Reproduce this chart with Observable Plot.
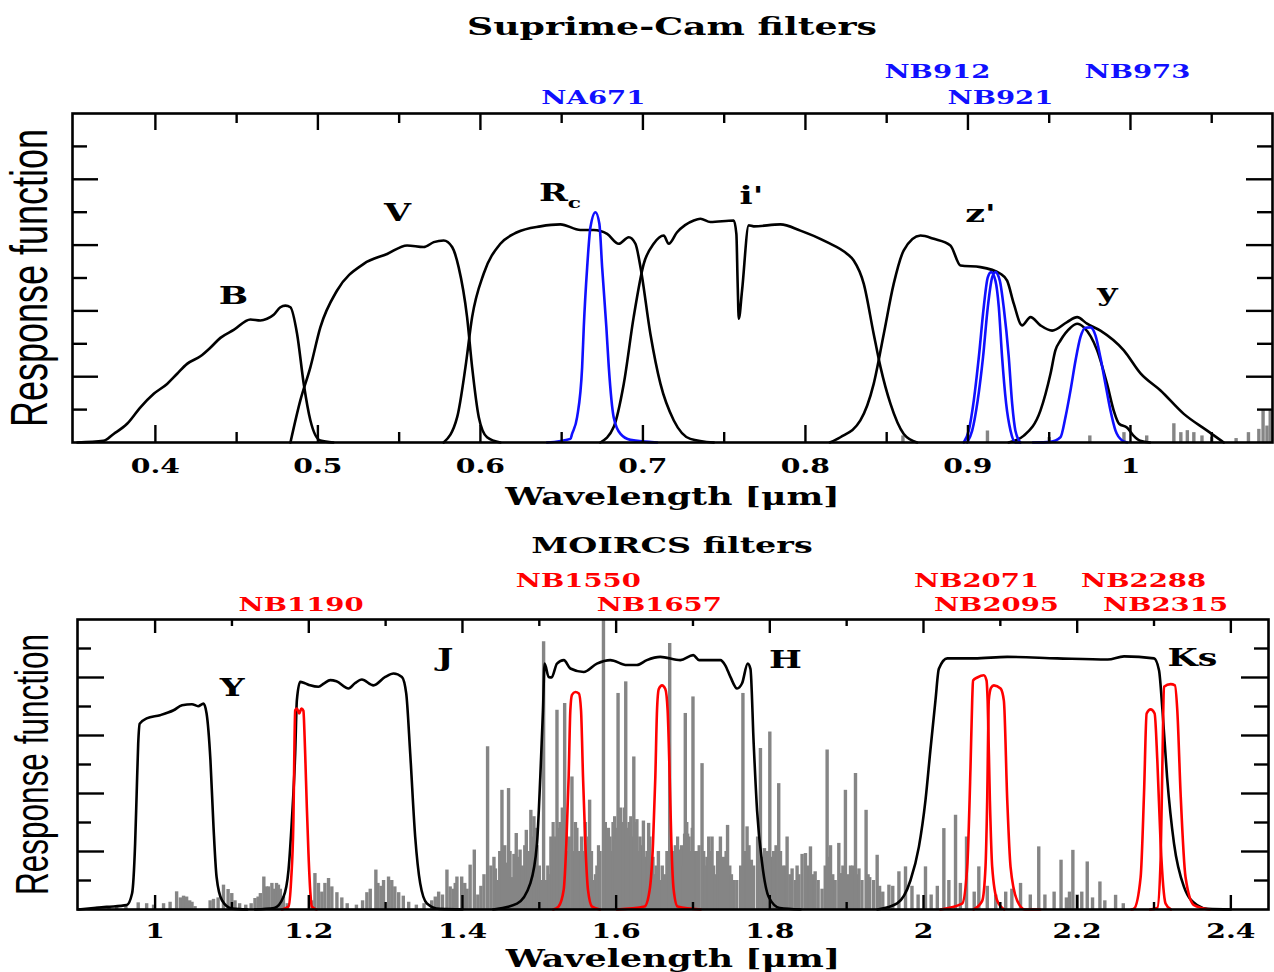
<!DOCTYPE html>
<html><head><meta charset="utf-8">
<script src="https://cdn.jsdelivr.net/npm/d3@7"></script>
<script src="https://cdn.jsdelivr.net/npm/@observablehq/plot@0.6"></script>
<style>
body{margin:0;background:#fff;}
#root{position:relative;width:1274px;height:972px;overflow:hidden;background:#fff;}
.title{position:absolute;left:72px;width:1200px;text-align:center;font-family:"DejaVu Serif",serif;font-weight:bold;line-height:30px;transform:scaleX(1.45);transform-origin:center;color:#000;}
.panel{position:absolute;left:0;}
</style></head>
<body>
<div id="root">
<div class="title" style="top:12px;font-size:25px">Suprime-Cam filters</div>
<div class="panel" id="p1" style="top:55px"></div>
<div class="title" style="top:530px;font-size:23px">MOIRCS filters</div>
<div class="panel" id="p2" style="top:560px"></div>
</div>
<script>
// ---------------- Suprime-Cam (top) ----------------
const filterB = [[0.352,0],[0.368,0.005],[0.3743,0.026],[0.3826,0.057],[0.3908,0.107],[0.399,0.148],[0.4072,0.178],[0.4134,0.209],[0.4195,0.239],[0.4277,0.262],[0.4338,0.288],[0.440,0.318],[0.4482,0.342],[0.4585,0.374],[0.4646,0.371],[0.4687,0.376],[0.4728,0.388],[0.4769,0.411],[0.480,0.416],[0.4831,0.411],[0.4872,0.330],[0.4913,0.178],[0.4954,0.067],[0.5015,0.006],[0.5095,0]];
const filterV = [[0.4831,0],[0.4892,0.128],[0.4954,0.229],[0.5015,0.35],[0.5118,0.462],[0.5282,0.543],[0.5426,0.573],[0.5549,0.599],[0.5651,0.594],[0.5713,0.609],[0.5774,0.614],[0.5826,0.594],[0.5866,0.533],[0.5918,0.381],[0.5949,0.229],[0.599,0.077],[0.6041,0.016],[0.6123,0]];
const filterRc = [[0.5774,0],[0.5857,0.077],[0.5908,0.229],[0.5949,0.381],[0.602,0.513],[0.6123,0.604],[0.6226,0.639],[0.6369,0.657],[0.6492,0.663],[0.6615,0.646],[0.6697,0.646],[0.678,0.634],[0.6851,0.604],[0.6913,0.624],[0.6954,0.604],[0.6985,0.533],[0.7046,0.33],[0.7108,0.178],[0.719,0.067],[0.7292,0.011],[0.7436,0]];
const filterI = [[0.6738,0],[0.682,0.047],[0.6882,0.178],[0.6943,0.381],[0.7005,0.543],[0.7066,0.604],[0.7128,0.629],[0.7159,0.604],[0.721,0.639],[0.7313,0.675],[0.7354,0.68],[0.7415,0.67],[0.7559,0.675],[0.7575,0.634],[0.7583,0.482],[0.759,0.376],[0.761,0.462],[0.7651,0.66],[0.7682,0.657],[0.7846,0.663],[0.7969,0.644],[0.8133,0.609],[0.8257,0.573],[0.8297,0.553],[0.8359,0.482],[0.842,0.33],[0.8462,0.229],[0.8523,0.118],[0.8605,0.026],[0.8687,0]];
const filterZ = [[0.8150,0],[0.8215,0.016],[0.8338,0.067],[0.842,0.178],[0.8482,0.33],[0.8543,0.482],[0.8605,0.584],[0.8708,0.629],[0.879,0.619],[0.8892,0.599],[0.8954,0.538],[0.9077,0.533],[0.92,0.513],[0.9241,0.492],[0.9282,0.422],[0.9333,0.356],[0.9385,0.381],[0.9446,0.356],[0.9518,0.34],[0.961,0.366],[0.9672,0.381],[0.9733,0.361],[0.9815,0.34],[0.9959,0.28],[1.0062,0.21],[1.0185,0.158],[1.0328,0.087],[1.0472,0.036],[1.0574,0]];
const filterY = [[0.925,0],[0.9344,0.021],[0.9446,0.097],[0.9508,0.209],[0.9538,0.28],[0.9569,0.31],[0.9631,0.349],[0.9672,0.361],[0.9713,0.35],[0.9795,0.28],[0.9856,0.178],[0.9897,0.097],[0.993,0.057],[0.998,0.045],[1.002,0.02],[1.006,0.005],[1.012,0]];
const filterNA671 = [[0.641,0],[0.6554,0.011],[0.6564,0.026],[0.6595,0.077],[0.6626,0.229],[0.6636,0.35],[0.6657,0.533],[0.6677,0.654],[0.6708,0.70],[0.6732,0.665],[0.6749,0.533],[0.6775,0.35],[0.679,0.229],[0.682,0.077],[0.6862,0.026],[0.6923,0.008],[0.7087,0]];
const filterNB912 = [[0.8974,0],[0.9005,0.036],[0.9036,0.128],[0.9067,0.26],[0.9097,0.411],[0.9122,0.502],[0.9143,0.518],[0.9169,0.492],[0.919,0.411],[0.921,0.26],[0.9235,0.118],[0.9262,0.036],[0.9292,0],[0.932,0]];
const filterNB921 = [[0.8995,0],[0.9026,0.036],[0.906,0.128],[0.9093,0.26],[0.9122,0.411],[0.9149,0.502],[0.9169,0.518],[0.9196,0.492],[0.922,0.411],[0.9251,0.26],[0.9272,0.118],[0.9292,0.036],[0.9323,0]];
const filterNB973 = [[0.940,0],[0.9508,0.002],[0.9569,0.016],[0.96,0.077],[0.9631,0.158],[0.9662,0.249],[0.9692,0.32],[0.9723,0.349],[0.9754,0.350],[0.9785,0.325],[0.9815,0.259],[0.9846,0.178],[0.9877,0.097],[0.9908,0.036],[0.9949,0.006],[0.998,0]];
const skyTop = [[0.860,0.02],[0.912,0.035],[0.950,0.015],[0.975,0.02],[0.996,0.03],[1.010,0.02],[1.0267,0.057],[1.031,0.03],[1.035,0.036],[1.039,0.03],[1.044,0.02],[1.050,0.015],[1.065,0.012],[1.0726,0.03],[1.079,0.04],[1.0816,0.097],[1.084,0.05],[1.086,0.097]];
const topBroadNames = ["B","V","R","i'","z'","y"];
const topBroadX = [0.448,0.549,0.645,0.7668,0.9077,0.9858];
const topBroadY = [0.444,0.696,0.757,0.748,0.693,0.453];
const topSubText = ["c"];
const topSubX = [0.6578];
const topSubY = [0.728];
const topNBNames = ["NA671","NB912","NB921","NB973"];
const topNBX = [0.6695,0.8812,0.920,1.0043];
const topNBRow = [2,1,2,1];
const topMajorX = [0.4,0.5,0.6,0.7,0.8,0.9,1.0];
const topMajorLabels = ["0.4","0.5","0.6","0.7","0.8","0.9","1"];
const topMinorX = [0.45,0.55,0.65,0.75,0.85,0.95,1.05];

// ---------------- MOIRCS (bottom) ----------------
const filterYband = [[0.90,0],[0.92,0.005],[0.937,0.009],[0.963,0.015],[0.970,0.055],[0.974,0.228],[0.976,0.40],[0.978,0.572],[0.980,0.641],[0.989,0.659],[1.0065,0.670],[1.024,0.687],[1.035,0.704],[1.048,0.708],[1.056,0.701],[1.063,0.710],[1.067,0.676],[1.072,0.515],[1.076,0.285],[1.080,0.112],[1.087,0.032],[1.10,0.003],[1.12,0]];
const filterJ = [[1.13,0],[1.155,0.005],[1.167,0.043],[1.1736,0.136],[1.178,0.308],[1.1823,0.538],[1.1845,0.722],[1.1888,0.785],[1.195,0.78],[1.2018,0.773],[1.2126,0.768],[1.22,0.78],[1.2279,0.791],[1.236,0.787],[1.2517,0.762],[1.26,0.78],[1.2691,0.793],[1.2842,0.773],[1.2995,0.802],[1.3103,0.814],[1.3212,0.802],[1.3268,0.745],[1.332,0.538],[1.3385,0.25],[1.345,0.09],[1.3538,0.021],[1.37,0.002],[1.40,0]];
const filterH = [[1.44,0],[1.471,0.02],[1.4883,0.09],[1.497,0.228],[1.5013,0.457],[1.5048,0.687],[1.5069,0.848],[1.5122,0.802],[1.516,0.80],[1.523,0.848],[1.532,0.86],[1.5404,0.831],[1.5577,0.819],[1.575,0.848],[1.5924,0.86],[1.614,0.843],[1.627,0.843],[1.640,0.86],[1.6575,0.871],[1.6836,0.86],[1.7003,0.877],[1.708,0.86],[1.7357,0.86],[1.742,0.842],[1.7487,0.802],[1.7574,0.762],[1.7639,0.78],[1.7712,0.848],[1.7748,0.83],[1.779,0.572],[1.7834,0.342],[1.79,0.159],[1.7986,0.043],[1.813,0.005],[1.84,0]];
const filterKs = [[1.94,0],[1.9657,0.021],[1.983,0.10],[1.994,0.216],[2.0026,0.377],[2.009,0.55],[2.0156,0.722],[2.020,0.83],[2.031,0.866],[2.066,0.866],[2.109,0.871],[2.174,0.866],[2.2397,0.862],[2.261,0.873],[2.300,0.866],[2.3065,0.825],[2.311,0.687],[2.317,0.457],[2.326,0.228],[2.339,0.078],[2.356,0.015],[2.37,0.002],[2.40,0]];
const filterNB1190 = [[1.165,0],[1.1736,0.01],[1.177,0.1],[1.18,0.308],[1.181,0.5],[1.1823,0.687],[1.1845,0.693],[1.1875,0.676],[1.1905,0.693],[1.193,0.685],[1.1945,0.6],[1.1953,0.538],[1.1975,0.35],[1.1996,0.193],[1.202,0.06],[1.204,0.01],[1.21,0]];
const filterNB1550 = [[1.518,0],[1.525,0.01],[1.5317,0.067],[1.5352,0.228],[1.5382,0.457],[1.5404,0.687],[1.5425,0.74],[1.5469,0.75],[1.5515,0.745],[1.5543,0.687],[1.5569,0.457],[1.5599,0.228],[1.5634,0.067],[1.5686,0.01],[1.579,0]];
const filterNB1657 = [[1.601,0],[1.637,0.01],[1.6436,0.067],[1.648,0.228],[1.651,0.457],[1.6532,0.687],[1.6555,0.76],[1.6597,0.773],[1.664,0.76],[1.667,0.687],[1.6697,0.457],[1.6719,0.228],[1.6749,0.067],[1.68,0.01],[1.71,0]];
const filterNB2071 = [[2.022,0],[2.0503,0.02],[2.0569,0.147],[2.0612,0.492],[2.0634,0.722],[2.0645,0.79],[2.07,0.80],[2.0785,0.808],[2.082,0.79],[2.0835,0.72],[2.0864,0.377],[2.0894,0.147],[2.096,0.03],[2.105,0]];
const filterNB2095 = [[2.065,0],[2.0764,0.03],[2.0807,0.147],[2.0829,0.377],[2.085,0.722],[2.088,0.765],[2.0916,0.773],[2.1003,0.762],[2.1046,0.72],[2.109,0.377],[2.1133,0.147],[2.122,0.03],[2.132,0],[2.152,0]];
const filterNB2288 = [[2.2705,0],[2.274,0.003],[2.2826,0.112],[2.287,0.40],[2.2904,0.676],[2.2956,0.69],[2.3008,0.676],[2.3043,0.515],[2.3086,0.228],[2.315,0.021],[2.322,0]];
const filterNB2315 = [[2.295,0],[2.3043,0.005],[2.3086,0.17],[2.311,0.515],[2.313,0.768],[2.3216,0.777],[2.3272,0.773],[2.3303,0.687],[2.3346,0.40],[2.341,0.112],[2.352,0.015],[2.3724,0]];
// OH sky lines: tall/clear lines
const skyBottom = [[0.925,0.008],[0.94,0.01],[0.95,0.012],[0.962,0.01],[0.978,0.023],[0.989,0.02],[0.998,0.015],[1.011,0.02],[1.0195,0.025],[1.028,0.061],[1.033,0.04],[1.037,0.046],[1.041,0.043],[1.045,0.03],[1.048,0.025],[1.052,0.01],[1.0716,0.03],[1.076,0.035],[1.082,0.04],[1.089,0.084],[1.095,0.069],[1.0998,0.055],[1.104,0.03],[1.11,0.02],[1.118,0.015],
[1.125,0.02],[1.130,0.038],[1.134,0.043],[1.137,0.055],[1.1415,0.112],[1.145,0.078],[1.1476,0.078],[1.152,0.09],[1.155,0.07],[1.158,0.09],[1.1605,0.084],[1.163,0.07],[1.167,0.045],[1.172,0.02],
[1.204,0.03],[1.208,0.124],[1.2126,0.09],[1.217,0.06],[1.221,0.09],[1.2257,0.107],[1.230,0.078],[1.2366,0.058],[1.243,0.04],[1.25,0.02],[1.262,0.015],[1.27,0.03],
[1.2756,0.058],[1.28,0.07],[1.2873,0.136],[1.29,0.09],[1.294,0.08],[1.2973,0.10],[1.3038,0.112],[1.308,0.10],[1.312,0.078],[1.317,0.058],[1.323,0.046],[1.33,0.025],[1.34,0.015],[1.35,0.02],[1.36,0.03],[1.3646,0.043],[1.369,0.06],[1.374,0.05],[1.3798,0.136],[1.384,0.078],[1.388,0.07],[1.3906,0.09],[1.3928,0.112],[1.399,0.112],[1.403,0.09],[1.406,0.07],[1.410,0.153],[1.4154,0.205],[1.42,0.05],[1.424,0.08],
[1.428,0.12],[1.4327,0.561],[1.437,0.15],[1.441,0.18],[1.445,0.10],[1.4485,0.2],[1.4514,0.411],[1.455,0.22],[1.460,0.417],[1.464,0.11],[1.467,0.19],[1.470,0.262],[1.475,0.205],[1.478,0.15],[1.4831,0.273],[1.486,0.2],[1.489,0.342],[1.493,0.32],[1.497,0.22],[1.5,0.15],[1.503,0.1],[1.5056,0.923],[1.509,0.1],[1.513,0.12],[1.517,0.2],[1.520,0.25],[1.523,0.687],[1.527,0.3],[1.530,0.35],[1.533,0.71],[1.537,0.2],[1.5425,0.457],[1.547,0.3],[1.551,0.2],[1.555,0.25],[1.56,0.3],[1.5655,0.377],[1.571,0.1],[1.575,0.15],[1.579,0.2],[1.5835,1.0],[1.588,0.2],[1.592,0.25],[1.596,0.3],[1.599,0.24],[1.6025,0.745],[1.606,0.35],[1.609,0.3],[1.6125,0.785],[1.617,0.3],[1.620,0.25],[1.623,0.526],[1.627,0.31],[1.631,0.25],[1.6355,0.305],[1.6423,0.297],[1.646,0.15],[1.650,0.12],[1.655,0.2],[1.660,0.15],[1.6697,0.917],[1.674,0.2],[1.6836,0.205],[1.687,0.15],[1.690,0.676],[1.693,0.26],[1.697,0.2],[1.700,0.733],[1.705,0.2],[1.7118,0.503],[1.716,0.15],[1.7205,0.25],[1.7248,0.25],[1.729,0.12],[1.7357,0.25],[1.74,0.18],[1.745,0.29],[1.75,0.12],[1.757,0.1],[1.765,0.745],[1.7704,0.285],[1.776,0.17],[1.7878,0.555],[1.793,0.21],[1.80,0.612],[1.805,0.2],[1.8116,0.434],[1.817,0.15],[1.8225,0.25],[1.829,0.14],[1.8355,0.15],[1.842,0.19],[1.8464,0.193],[1.8529,0.216],[1.859,0.13],[1.868,0.07],[1.8746,0.55],[1.879,0.22],[1.885,0.1],[1.8898,0.228],[1.892,0.124],[1.8984,0.411],[1.905,0.15],[1.9115,0.469],[1.916,0.14],[1.9253,0.342],[1.930,0.11],[1.9397,0.187],[1.947,0.06],[1.955,0.084],[1.96,0.08],[1.968,0.13],[1.9766,0.147],[1.985,0.08],[1.993,0.05],[2.0026,0.147],[2.01,0.05],[2.018,0.08],[2.0265,0.279],[2.033,0.1],[2.0417,0.325],[2.048,0.09],[2.056,0.25],[2.066,0.06],[2.072,0.147],[2.083,0.08],[2.094,0.05],[2.107,0.06],[2.115,0.07],[2.1263,0.09],[2.139,0.05],[2.150,0.216],[2.158,0.05],[2.17,0.06],[2.179,0.17],[2.186,0.04],[2.19,0.06],[2.1944,0.204],[2.2,0.05],[2.206,0.06],[2.2131,0.164],[2.22,0.04],[2.2296,0.095],[2.236,0.03],[2.25,0.049],[2.26,0.02]];
// OH sky lines: weak blended lines filling the dense H-band region
const skyBottomWeak = [[1.443,0.14],[1.457,0.16],[1.462,0.2],[1.472,0.18],[1.481,0.22],[1.491,0.25],[1.495,0.28],[1.511,0.15],[1.515,0.25],[1.518,0.3],[1.525,0.28],[1.528,0.22],[1.535,0.3],[1.539,0.25],[1.545,0.2],[1.549,0.28],[1.553,0.15],[1.558,0.2],[1.563,0.25],[1.568,0.2],[1.573,0.12],[1.577,0.22],[1.586,0.3],[1.590,0.28],[1.594,0.2],[1.598,0.32],[1.601,0.28],[1.604,0.3],[1.608,0.25],[1.611,0.35],[1.615,0.28],[1.619,0.32],[1.622,0.22],[1.625,0.3],[1.629,0.2],[1.633,0.22],[1.638,0.18],[1.640,0.2],[1.644,0.25],[1.648,0.18],[1.652,0.15],[1.657,0.1],[1.663,0.12],[1.666,0.2],[1.672,0.18],[1.677,0.22],[1.680,0.25],[1.685,0.22],[1.689,0.26],[1.692,0.3],[1.695,0.25],[1.699,0.28],[1.702,0.2],[1.708,0.22],[1.714,0.2],[1.718,0.18],[1.723,0.2],[1.727,0.15],[1.732,0.2],[1.738,0.15],[1.743,0.2],[1.748,0.15],[1.753,0.1],[1.762,0.15],[1.768,0.2],[1.773,0.22],[1.779,0.15],[1.784,0.25],[1.79,0.18],[1.797,0.2],[1.802,0.18],[1.808,0.22],[1.814,0.2],[1.82,0.15],[1.826,0.12],[1.833,0.1],[1.838,0.12],[1.85,0.15],[1.856,0.12],[1.863,0.1],[1.872,0.15],[1.877,0.18],[1.882,0.12],[1.895,0.15],[1.902,0.12],[1.908,0.15],[1.914,0.12],[1.92,0.1],[1.928,0.12],[1.935,0.1],[1.943,0.08]];
const botBroadNames = ["Y","J","H","Ks"];
const botBroadX = [1.1003,1.3776,1.8203,2.350];
const botBroadY = [0.763,0.867,0.86,0.867];
const botNBNames = ["NB1190","NB1550","NB1657","NB2071","NB2095","NB2288","NB2315"];
const botNBX = [1.190,1.5508,1.6563,2.069,2.095,2.2865,2.315];
const botNBRow = [2,1,2,1,2,1,2];
const botMajorX = [1.0,1.2,1.4,1.6,1.8,2.0,2.2,2.4];
const botMajorLabels = ["1","1.2","1.4","1.6","1.8","2","2.2","2.4"];
const botMinorX = [1.1,1.3,1.5,1.7,1.9,2.1,2.3];

const yMajor = [0.2,0.4,0.6,0.8];
const yMinor = [0.1,0.3,0.5,0.7,0.9];

const SKY = "#858585", BLUE = "#1010ff", RED = "#ff0000";
const SERIF = "DejaVu Serif", SANS = "Liberation Sans";

function stretchText(svg, sx) {
  svg.querySelectorAll("text").forEach(t => {
    const tr = t.getAttribute("transform");
    if (tr && /^translate\(/.test(tr)) {
      t.setAttribute("transform", tr.replace(/^(translate\([^)]*\))/, `$1 scale(${sx},1)`));
    } else {
      const x = +t.getAttribute("x") || 0, y = +t.getAttribute("y") || 0;
      t.setAttribute("x", 0); t.setAttribute("y", 0);
      t.setAttribute("transform", `translate(${x},${y}) scale(${sx},1)` + (tr ? " " + tr : ""));
    }
  });
}

function panel(cfg) {
  const fw = cfg.width - cfg.mL - cfg.mR, fh = cfg.height - cfg.mT - cfg.mB;
  const P = d => d[0], Q = d => d[1];
  const line = (data, stroke, sw) => Plot.line(data, {x: P, y: Q, stroke, strokeWidth: sw, curve: "monotone-x", strokeLinejoin: "round"});
  const marks = [
    Plot.ruleX(cfg.skyWeak || [], {x: P, y1: 0, y2: Q, stroke: SKY, strokeWidth: 3.2, clip: true}),
    Plot.ruleX(cfg.sky, {x: P, y1: 0, y2: Q, stroke: SKY, strokeWidth: 3.4, clip: true}),
    ...cfg.black.map(f => line(f, "black", 2.6)),
    ...cfg.colored.map(f => line(f, cfg.color, 2.6)),
    Plot.frame({stroke: "black", strokeWidth: 2.6}),
    Plot.ruleX(cfg.majorX, {x: d => d, stroke: "black", strokeWidth: 2.4, insetTop: fh - cfg.xMaj}),
    Plot.ruleX(cfg.minorX, {x: d => d, stroke: "black", strokeWidth: 2.4, insetTop: fh - cfg.xMin}),
    Plot.ruleX(cfg.majorX, {x: d => d, stroke: "black", strokeWidth: 2.4, insetBottom: fh - cfg.xMaj}),
    Plot.ruleX(cfg.minorX, {x: d => d, stroke: "black", strokeWidth: 2.4, insetBottom: fh - cfg.xMin}),
    Plot.ruleY(yMajor, {y: d => d, stroke: "black", strokeWidth: 2.4, insetRight: fw - cfg.yMaj}),
    Plot.ruleY(yMinor, {y: d => d, stroke: "black", strokeWidth: 2.4, insetRight: fw - cfg.yMin}),
    Plot.ruleY(yMajor, {y: d => d, stroke: "black", strokeWidth: 2.4, insetLeft: fw - cfg.yMaj}),
    Plot.ruleY(yMinor, {y: d => d, stroke: "black", strokeWidth: 2.4, insetLeft: fw - cfg.yMin}),
    Plot.text(cfg.majorX, {x: cfg.majorX, text: cfg.majorLabels, frameAnchor: "bottom", lineAnchor: "middle", dy: cfg.tickDy, fontSize: 19.5, fontFamily: SERIF, fontWeight: "bold", fill: "black"}),
    Plot.text(["Wavelength [\u03bcm]"], {frameAnchor: "bottom", lineAnchor: "middle", textAnchor: "middle", dy: cfg.xLabelDy, fontSize: 24, fontFamily: SERIF, fontWeight: "bold", fill: "black"}),
    Plot.text(["Response function"], {frameAnchor: "left", textAnchor: "middle", lineAnchor: "middle", rotate: -90, dx: cfg.yLabelDx, fontSize: cfg.yLabelSize, fontFamily: SANS, fill: "black"}),
    Plot.text(cfg.bandNames, {x: cfg.bandX, y: cfg.bandY, text: cfg.bandNames, fontSize: 24, fontFamily: SERIF, fontWeight: "bold", fill: "black"}),
    Plot.text(cfg.nbNames.filter((d, i) => cfg.nbRow[i] === 1), {x: cfg.nbX.filter((d, i) => cfg.nbRow[i] === 1), frameAnchor: "top", lineAnchor: "middle", dy: cfg.row1Dy, fontSize: 19, fontFamily: SERIF, fontWeight: "bold", fill: cfg.color}),
    Plot.text(cfg.nbNames.filter((d, i) => cfg.nbRow[i] === 2), {x: cfg.nbX.filter((d, i) => cfg.nbRow[i] === 2), frameAnchor: "top", lineAnchor: "middle", dy: cfg.row2Dy, fontSize: 19, fontFamily: SERIF, fontWeight: "bold", fill: cfg.color})
  ];
  if (cfg.subText) marks.push(Plot.text(cfg.subText, {x: cfg.subX, y: cfg.subY, text: cfg.subText, fontSize: 15, fontFamily: SERIF, fontWeight: "bold", fill: "black"}));
  const svg = Plot.plot({
    width: cfg.width, height: cfg.height,
    marginLeft: cfg.mL, marginRight: cfg.mR, marginTop: cfg.mT, marginBottom: cfg.mB,
    x: {domain: cfg.xDomain, axis: null},
    y: {domain: [0, 1], axis: null},
    style: {background: "white", overflow: "visible", fontFamily: SERIF},
    marks
  });
  stretchText(svg, 1.45);
  return svg;
}

document.getElementById("p1").appendChild(panel({
  width: 1274, height: 457, mL: 72, mR: 2, mT: 58, mB: 70,
  xDomain: [0.349, 1.0874],
  sky: skyTop,
  black: [filterB, filterV, filterRc, filterI, filterZ, filterY],
  colored: [filterNA671, filterNB912, filterNB921, filterNB973],
  color: BLUE,
  majorX: topMajorX, majorLabels: topMajorLabels, minorX: topMinorX,
  xMaj: 17, xMin: 10, yMaj: 26, yMin: 15,
  tickDy: 24, xLabelDy: 55, yLabelDx: -42, yLabelSize: 36,
  bandNames: topBroadNames, bandX: topBroadX, bandY: topBroadY,
  subText: topSubText, subX: topSubX, subY: topSubY,
  nbNames: topNBNames, nbX: topNBX, nbRow: topNBRow, row1Dy: -42, row2Dy: -16
}));

document.getElementById("p2").appendChild(panel({
  width: 1274, height: 412, mL: 77, mR: 6, mT: 59, mB: 63,
  xDomain: [0.899, 2.449],
  sky: skyBottom, skyWeak: skyBottomWeak,
  black: [filterYband, filterJ, filterH, filterKs],
  colored: [filterNB1190, filterNB1550, filterNB1657, filterNB2071, filterNB2095, filterNB2288, filterNB2315],
  color: RED,
  majorX: botMajorX, majorLabels: botMajorLabels, minorX: botMinorX,
  xMaj: 14, xMin: 7, yMaj: 27, yMin: 14,
  tickDy: 22, xLabelDy: 50, yLabelDx: -44, yLabelSize: 31.5,
  bandNames: botBroadNames, bandX: botBroadX, bandY: botBroadY,
  nbNames: botNBNames, nbX: botNBX, nbRow: botNBRow, row1Dy: -39, row2Dy: -15
}));
</script>
</body></html>
